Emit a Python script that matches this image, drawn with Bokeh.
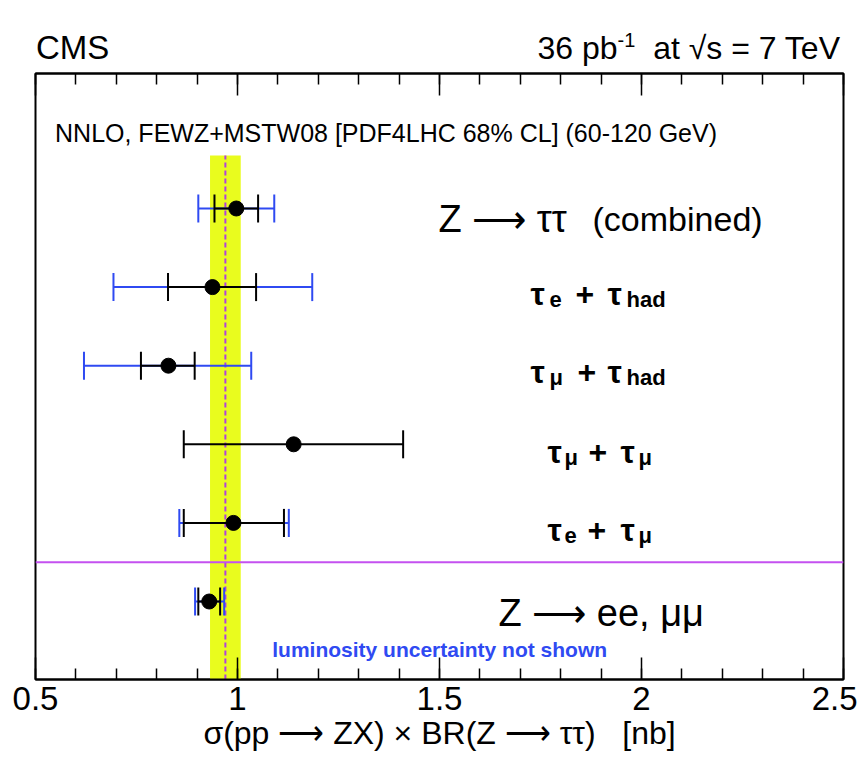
import numpy as np
from bokeh.plotting import figure
from bokeh.layouts import column
from bokeh.models import (Range1d, LinearAxis, Span, Label, ColumnDataSource, FixedTicker,
                          CustomLabelingPolicy, Div)
from bokeh.embed import file_html
from bokeh.resources import INLINE

# ---------------- data ----------------
channels = ["Z → ττ (combined)", "τe + τhad", "τμ + τhad", "τμ + τμ", "τe + τμ", "Z → ee, μμ"]
rows = [6, 5, 4, 3, 2, 1]
central = [0.997, 0.938, 0.829, 1.139, 0.990, 0.930]
stat_lo = [0.943, 0.828, 0.761, 0.867, 0.867, 0.903]
stat_hi = [1.051, 1.046, 0.894, 1.410, 1.115, 0.957]
tot_lo = [0.903, 0.693, 0.620, None, 0.856, 0.895]
tot_hi = [1.091, 1.185, 1.034, None, 1.127, 0.967]
theory_lo = 0.932
theory_hi = 1.008
theory_central = 0.970
tick_values = [0.5, 1.0, 1.5, 2.0, 2.5]
tick_labels = ["0.5", "1", "1.5", "2", "2.5"]

FONT = "Liberation Sans"
BLUE = "#2f4af2"
YELLOW = "#e9fc1e"
MAGENTA = "#c451f0"
NB = "\u00a0"

HEADER_H = 68

# ---------------- header (CMS / luminosity) as HTML ----------------
header_html = (
    f'<div style="position:relative;width:857px;height:{HEADER_H}px;'
    f'font-family:\'{FONT}\',sans-serif;color:black;background:white;">'
    '<span style="position:absolute;left:36px;top:29px;font-size:33px;line-height:normal;">CMS</span>'
    '<span style="position:absolute;right:17px;top:30px;font-size:32px;line-height:normal;white-space:pre;">'
    '36 pb<span style="position:relative;top:-12px;font-size:20px;line-height:normal;">-1</span>'
    '  at √s = 7 TeV</span>'
    '</div>'
)
h = Div(text=header_html, width=857, height=HEADER_H, margin=(0, 0, 0, 0))

# ---------------- main plot ----------------
def px2x(px):
    return 0.5 + (px - 35.5) / 403.6

def py2y(py):
    return 1 + (601 - py) / 78.6

p = figure(width=857, height=762 - HEADER_H, x_range=Range1d(0.5, 2.5),
           y_range=Range1d(py2y(679), py2y(73)),
           output_backend="svg", toolbar_location=None,
           y_axis_location=None, title_location=None,
           min_border_left=35, min_border_right=14, min_border_top=73 - HEADER_H, min_border_bottom=83)
p.grid.visible = False
p.outline_line_color = "black"
p.outline_line_width = 2
p.background_fill_color = "white"
p.border_fill_color = "white"

minor = list(np.round(np.arange(0.5, 2.5001, 0.1), 2))
ticker = FixedTicker(ticks=tick_values, minor_ticks=minor)

ax = p.xaxis[0]
ax.ticker = ticker
ax.major_label_overrides = {v: l for v, l in zip(tick_values, tick_labels)}
ax.major_tick_in = 22
ax.major_tick_out = 0
ax.minor_tick_in = 11
ax.minor_tick_out = 0
ax.major_tick_line_width = 1.5
ax.minor_tick_line_width = 1.5
ax.axis_line_width = 2
ax.major_label_text_font = FONT
ax.major_label_text_font_size = "33px"
ax.major_label_text_color = "black"
ax.major_label_standoff = 7
ax.axis_label = f"σ(pp ⟶ ZX) × BR(Z ⟶ ττ){NB}{NB}{NB}[nb]"
ax.axis_label_text_font = FONT
ax.axis_label_text_font_size = "32px"
ax.axis_label_text_font_style = "normal"
ax.axis_label_text_color = "black"
ax.axis_label_standoff = 2

hide_all = CustomLabelingPolicy(code="for (const i of indices) indices.unset(i)")
top = LinearAxis(ticker=ticker, major_label_policy=hide_all, major_label_text_font_size="1px",
                 major_tick_in=22, major_tick_out=0, minor_tick_in=11, minor_tick_out=0,
                 major_tick_line_width=1.5, minor_tick_line_width=1.5, axis_line_width=2,
                 major_label_standoff=0)
p.add_layout(top, "above")

# theory band and central value
band_top = py2y(155)
p.quad(left=[theory_lo], right=[theory_hi], bottom=[py2y(679)], top=[band_top],
       fill_color=YELLOW, line_color=None)
p.segment(x0=[theory_central], x1=[theory_central], y0=[py2y(679)], y1=[band_top],
          line_color="#b040e0", line_width=2, line_dash="5 3")

# separator line
p.add_layout(Span(location=1.5, dimension="width", line_color=MAGENTA, line_width=2))

# total uncertainty (blue)
bi = [i for i in range(len(rows)) if tot_lo[i] is not None]
bsrc = ColumnDataSource(dict(y=[rows[i] for i in bi], lo=[tot_lo[i] for i in bi], hi=[tot_hi[i] for i in bi]))
p.segment(x0="lo", x1="hi", y0="y", y1="y", source=bsrc, line_color=BLUE, line_width=2)
p.scatter(x="lo", y="y", source=bsrc, marker="dash", angle=np.pi / 2, size=28, line_color=BLUE, line_width=2)
p.scatter(x="hi", y="y", source=bsrc, marker="dash", angle=np.pi / 2, size=28, line_color=BLUE, line_width=2)

# statistical uncertainty (black)
ssrc = ColumnDataSource(dict(y=rows, lo=stat_lo, hi=stat_hi, c=central))
p.segment(x0="lo", x1="hi", y0="y", y1="y", source=ssrc, line_color="black", line_width=2)
p.scatter(x="lo", y="y", source=ssrc, marker="dash", angle=np.pi / 2, size=28, line_color="black", line_width=2)
p.scatter(x="hi", y="y", source=ssrc, marker="dash", angle=np.pi / 2, size=28, line_color="black", line_width=2)
p.scatter(x="c", y="y", source=ssrc, size=15, fill_color="black", line_color="black")


def lab(px, py, text, size, bold=False, color="black", align="left"):
    p.add_layout(Label(x=px2x(px), y=py2y(py), text=text, text_font=FONT,
                       text_font_size=f"{size}px", text_font_style="bold" if bold else "normal",
                       text_color=color, text_align=align, text_baseline="alphabetic"))


lab(55, 132, "NNLO, FEWZ+MSTW08 [PDF4LHC 68% CL] (60-120 GeV)", 25)
lab(272, 649, "luminosity uncertainty not shown", 21, bold=True, color=BLUE)

# channel labels
lab(438, 218, "Z ⟶ ττ", 38)
lab(592, 218, "(combined)", 34)

MAIN, SUB = 32, 22
def chan(row_py, pieces):
    for px, txt, sub in pieces:
        lab(px, row_py + (13 if sub else 7), txt, SUB if sub else MAIN, bold=True)

chan(286, [(530, "τ", False), (549, "e", True), (575, "+", False), (607, "τ", False), (626, "had", True)])
chan(364, [(530, "τ", False), (549, "μ", True), (577, "+", False), (607, "τ", False), (626, "had", True)])
chan(444, [(547, "τ", False), (564, "μ", True), (588, "+", False), (620, "τ", False), (638, "μ", True)])
chan(522, [(547, "τ", False), (564, "e", True), (587, "+", False), (620, "τ", False), (638, "μ", True)])

lab(498, 612, "Z ⟶ ee, μμ", 38)

layout = column(h, p, spacing=0)
open("out.html", "w").write(file_html(layout, INLINE))
